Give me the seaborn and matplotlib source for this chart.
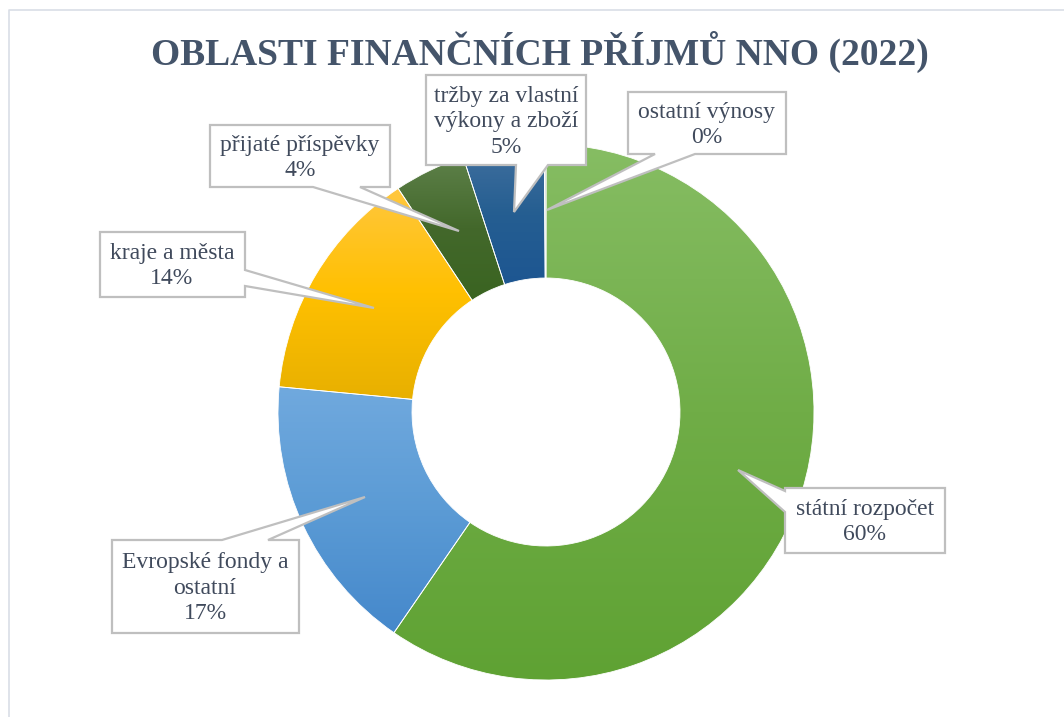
import numpy as np
import matplotlib
matplotlib.use('Agg')
import matplotlib.pyplot as plt
from matplotlib.colors import LinearSegmentedColormap
from matplotlib.patches import Polygon
import seaborn as sns

# Data
categories = ['státní rozpočet', 'Evropské fondy a\nostatní', 'kraje a města',
              'přijaté příspěvky', 'tržby za vlastní\nvýkony a zboží', 'ostatní výnosy']
shares = [59.6, 16.9, 14.2, 4.3, 4.9, 0.1]

# Gradient colours per slice (top, middle, bottom)
grad_top = ['#86BD63', '#70A9DE', '#FFC73E', '#5E814A', '#41709F', '#BFBFBF']
grad_mid = ['#70AD47', '#5B9BD5', '#FFC000', '#43682B', '#255E91', '#A5A5A5']
grad_bot = ['#5FA233', '#4588CB', '#E8B000', '#3A6421', '#1D5692', '#8C8C8C']

sns.set_theme(style='white')
plt.rcParams['font.family'] = ['Liberation Serif', 'DejaVu Serif']

W, H = 1064, 717
fig = plt.figure(figsize=(W / 100, H / 100), dpi=100)
ax = fig.add_axes([0, 0, 1, 1])

# donut in pixel space
cx, cy, r_out, r_in = 546, H - 412, 268, 134
wedges, _ = ax.pie(shares, startangle=90, counterclock=False, center=(cx, cy),
                   radius=r_out, frame=True,
                   wedgeprops=dict(width=r_out - r_in, facecolor='none',
                                   edgecolor='white', linewidth=0.6, zorder=2))

# vertical gradient fill for each slice, clipped to the wedge
grad = np.linspace(0, 1, 256).reshape(-1, 1)
for w, c1, c2, c3 in zip(wedges, grad_top, grad_mid, grad_bot):
    bb = w.get_path().get_extents()
    cmap = LinearSegmentedColormap.from_list('g', [c1, c2, c3])
    im = ax.imshow(grad, cmap=cmap, extent=[bb.x0, bb.x1, bb.y0, bb.y1],
                   origin='upper', aspect='auto', interpolation='bilinear', zorder=1)
    im.set_clip_path(w)

# callout boxes: (x0, y0, x1, y1), side of pointer, pointer base, tip, text centre (image px)
callouts = [
    ((785, 488, 945, 553), 'left', (491, 512), (738, 470), (865, 522)),
    ((112, 540, 299, 633), 'top', (222, 268), (365, 497), (205, 588)),
    ((100, 232, 245, 297), 'right', (270, 286), (374, 308), (172, 266)),
    ((210, 125, 390, 187), 'bottom', (313, 360), (459, 231), (300, 158)),
    ((426, 75, 586, 165), 'bottom', (516, 548), (514, 212), (506, 122)),
    ((628, 92, 786, 154), 'bottom', (655, 695), (547, 210), (707, 125)),
]


def callout_poly(box, side, base, tip):
    x0, y0, x1, y1 = box
    a, b = base
    if side == 'top':
        pts = [(x0, y0), (a, y0), tip, (b, y0), (x1, y0), (x1, y1), (x0, y1)]
    elif side == 'right':
        pts = [(x0, y0), (x1, y0), (x1, a), tip, (x1, b), (x1, y1), (x0, y1)]
    elif side == 'bottom':
        pts = [(x0, y0), (x1, y0), (x1, y1), (b, y1), tip, (a, y1), (x0, y1)]
    else:
        pts = [(x0, y0), (x1, y0), (x1, y1), (x0, y1), (x0, b), tip, (x0, a)]
    return [(x, H - y) for x, y in pts]


for cat, val, (box, side, base, tip, tc) in zip(categories, shares, callouts):
    ax.add_patch(Polygon(callout_poly(box, side, base, tip), closed=True,
                         facecolor='white', edgecolor='#BFBFBF', linewidth=1.6, zorder=3))
    ax.text(tc[0], H - tc[1], f'{cat}\n{round(val)}%', ha='center', va='center',
            fontsize=17, color='#404A5C', linespacing=1.3, zorder=4)

# title
ax.text(540, H - 52, 'OBLASTI FINANČNÍCH PŘÍJMŮ NNO (2022)', ha='center', va='center',
        fontsize=27, fontweight='bold', color='#44546A')

# chart area border
ax.plot([9, 9, W], [0, H - 10, H - 10], color='#D9DEE6', linewidth=1.2, zorder=0)

ax.set_xlim(0, W)
ax.set_ylim(0, H)
ax.axis('off')

fig.savefig('out.png', dpi=100, facecolor='white')
